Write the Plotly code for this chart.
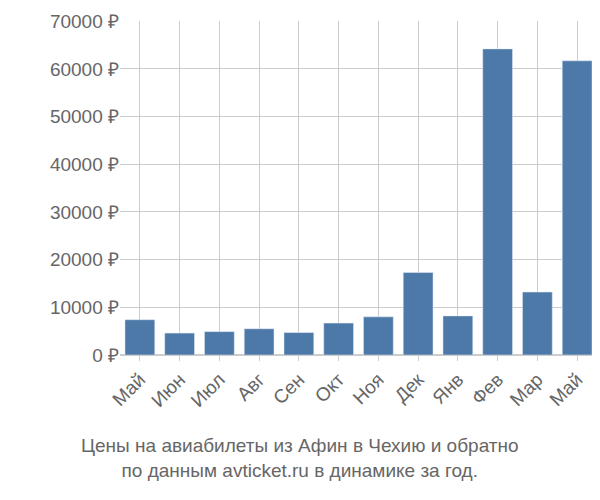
import plotly.graph_objects as go

months = ["Май","Июн","Июл","Авг","Сен","Окт","Ноя","Дек","Янв","Фев","Мар","Май"]
prices = [7400, 4600, 4900, 5500, 4700, 6700, 8000, 17300, 8200, 64200, 13200, 61700]
yticks = [0,10000,20000,30000,40000,50000,60000,70000]
ytext = [f"{v} ₽" for v in yticks]

fig = go.Figure(go.Bar(x=list(range(len(months))), y=prices, marker_color="#4d79a8", width=0.75))
fig.update_layout(
    width=592, height=492, plot_bgcolor="white", paper_bgcolor="white",
    margin=dict(l=112, r=3, t=11, b=145),
    font=dict(family="Liberation Sans, Arial", color="#666", size=19),
    showlegend=False,
    annotations=[dict(text="Цены на авиабилеты из Афин в Чехию и обратно<br>по данным avticket.ru в динамике за год.",
                      xref="paper", yref="paper", x=0.377, y=-0.235, xanchor="center", yanchor="top",
                      showarrow=False, font=dict(size=19, color="#666"))],
)
fig.update_xaxes(tickvals=list(range(len(months))), ticktext=months, tickangle=-45,
                 showgrid=True, gridcolor="#ccc", range=[-0.5, 11.5], showline=False,
                 ticks="outside", tickcolor="#ccc", ticklen=5)
fig.update_yaxes(range=[0, 70050], tickvals=yticks, ticktext=ytext, gridcolor="#ccc",
                 zeroline=True, zerolinecolor="#ccc")
fig.write_html("out.html")
